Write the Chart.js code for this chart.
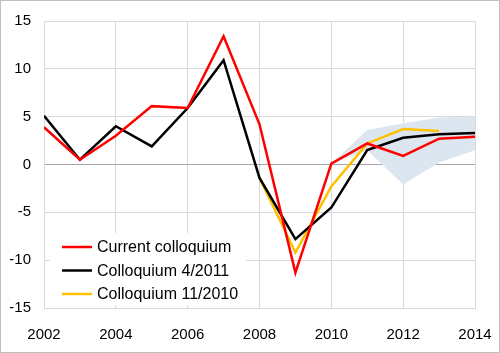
<!DOCTYPE html>
<html>
<head>
<meta charset="utf-8">
<script src="https://cdn.jsdelivr.net/npm/chart.js@4/dist/chart.umd.min.js"></script>
<style>
  html, body { margin: 0; padding: 0; background: #fff; }
  #wrap { width: 500px; height: 353px; box-sizing: border-box; border: 1px solid #bfbfbf; }
  canvas { display: block; }
</style>
</head>
<body>
<div id="wrap"><canvas id="chart" width="498" height="351"></canvas></div>
<script>
// Data

const years = [2002, 2003, 2004, 2005, 2006, 2007, 2008, 2009, 2010, 2011, 2012, 2013, 2014];
const current_colloquium = [3.9, 0.5, 3.0, 6.1, 5.9, 13.4, 4.2, -11.3, 0.1, 2.2, 0.9, 2.7, 2.9];
const colloquium_4_2011 = [5.1, 0.5, 4.0, 1.9, 5.9, 10.9, -1.4, -7.8, -4.5, 1.5, 2.8, 3.15, 3.3];

const years_11_2010 = [2008, 2009, 2010, 2011, 2012, 2013];
const colloquium_11_2010 = [-1.4, -9.2, -2.3, 2.2, 3.7, 3.5];

const band_years = [2010, 2011, 2012, 2013, 2014];
const band_upper = [0.1, 3.6, 4.3, 4.9, 5.0];
const band_lower = [0.1, 1.5, -2.1, 0.2, 1.5];

const x_ticks = [2002, 2004, 2006, 2008, 2010, 2012, 2014];
const y_ticks = [-15, -10, -5, 0, 5, 10, 15];

function points(xs, ys) {
    return xs.map((x, i) => ({ x: x, y: ys[i] }));
}

const font_name = "'Liberation Sans', Arial, sans-serif";

// Legend drawn inside the plot, bottom left

const inner_legend = {
    id: 'inner_legend',
    afterDraw(chart) {
        const ctx = chart.ctx;
        ctx.save();
        ctx.fillStyle = '#ffffff';
        ctx.fillRect(49, 232, 196, 72);
        ctx.font = '16px ' + font_name;
        ctx.textBaseline = 'middle';
        chart.data.datasets.slice(0, 3).forEach((ds, i) => {
            const y = 246 + i * 23.5;
            ctx.strokeStyle = ds.borderColor;
            ctx.lineWidth = 2.5;
            ctx.beginPath();
            ctx.moveTo(61, y);
            ctx.lineTo(91, y);
            ctx.stroke();
            ctx.fillStyle = '#000000';
            ctx.fillText(ds.label, 96, y + 1);
        });
        ctx.restore();
    }
};

// Chart

const chart = new Chart(document.getElementById('chart'), {
    type: 'line',
    data: {
        datasets: [{
            label: 'Current colloquium',
            data: points(years, current_colloquium),
            borderColor: '#ff0000',
            borderWidth: 2.5,
            pointRadius: 0,
            tension: 0
        }, {
            label: 'Colloquium 4/2011',
            data: points(years, colloquium_4_2011),
            borderColor: '#000000',
            borderWidth: 2.5,
            pointRadius: 0,
            tension: 0
        }, {
            label: 'Colloquium 11/2010',
            data: points(years_11_2010, colloquium_11_2010),
            borderColor: '#ffc000',
            borderWidth: 2.5,
            pointRadius: 0,
            tension: 0
        }, {
            label: 'band lower',
            data: points(band_years, band_lower),
            borderWidth: 0,
            borderColor: 'rgba(0,0,0,0)',
            pointRadius: 0,
            fill: false
        }, {
            label: 'band upper',
            data: points(band_years, band_upper),
            borderWidth: 0,
            borderColor: 'rgba(0,0,0,0)',
            backgroundColor: '#dce6f1',
            pointRadius: 0,
            fill: '-1'
        }]
    },
    options: {
        responsive: false,
        animation: false,
        layout: {
            padding: { top: 20, right: 24, left: 0, bottom: 0 }
        },
        plugins: {
            legend: { display: false },
            tooltip: { enabled: false }
        },
        scales: {
            x: {
                type: 'linear',
                min: 2002,
                max: 2014,
                afterFit: (scale) => {
                    scale.height = 44;
                    scale.paddingLeft = 0;
                    scale.paddingRight = 0;
                },
                afterBuildTicks: (scale) => { scale.ticks = x_ticks.map(v => ({ value: v })); },
                ticks: {
                    padding: 18,
                    color: '#000000',
                    font: { size: 15, family: font_name },
                    maxRotation: 0,
                    callback: (v) => String(v)
                },
                grid: {
                    color: '#d9d9d9',
                    drawTicks: false
                },
                border: { color: '#d9d9d9' }
            },
            y: {
                min: -15,
                max: 15,
                afterFit: (scale) => {
                    scale.width = 43;
                    scale.paddingTop = 0;
                    scale.paddingBottom = 0;
                },
                afterBuildTicks: (scale) => { scale.ticks = y_ticks.map(v => ({ value: v })); },
                ticks: {
                    padding: 13,
                    color: '#000000',
                    font: { size: 15, family: font_name }
                },
                grid: {
                    color: (c) => c.tick && c.tick.value === 0 ? '#a6a6a6' : '#d9d9d9',
                    drawTicks: false
                },
                border: { color: '#d9d9d9' }
            }
        }
    },
    plugins: [inner_legend]
});
</script>
</body>
</html>
